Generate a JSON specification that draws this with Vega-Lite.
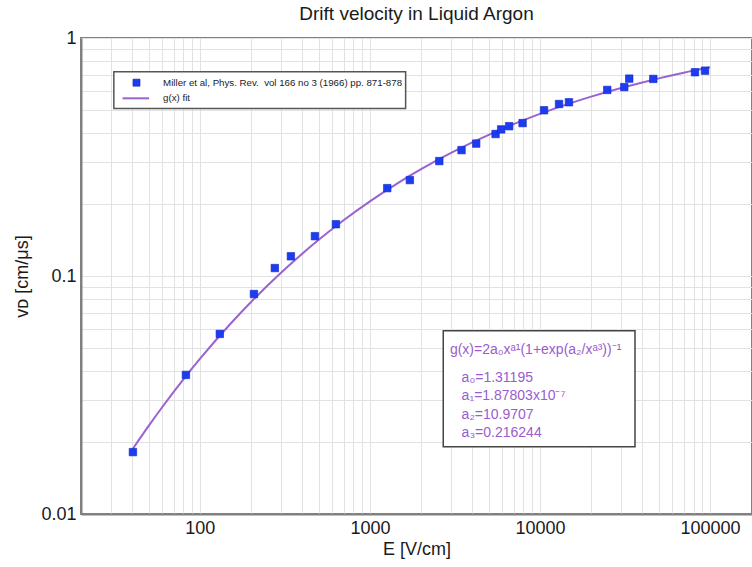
{
  "$schema": "https://vega.github.io/schema/vega-lite/v6.json",
  "autosize": {"type": "none"},
  "padding": {"left": 81, "top": 38, "right": 0, "bottom": 53},
  "width": 671,
  "height": 476,
  "title": {
    "text": "Drift velocity in Liquid Argon",
    "fontSize": 19,
    "fontWeight": "normal",
    "color": "#1a1a1a",
    "anchor": "middle",
    "offset": 5
  },
  "datasets": {
    "measurements": [
      {"E": 40.4, "v": 0.0182},
      {"E": 82.8, "v": 0.0384},
      {"E": 131, "v": 0.0571},
      {"E": 208, "v": 0.084},
      {"E": 276, "v": 0.108},
      {"E": 343, "v": 0.121},
      {"E": 475, "v": 0.147},
      {"E": 631, "v": 0.165},
      {"E": 1265, "v": 0.234},
      {"E": 1718, "v": 0.253},
      {"E": 2559, "v": 0.304},
      {"E": 3458, "v": 0.338},
      {"E": 4218, "v": 0.36},
      {"E": 5483, "v": 0.395},
      {"E": 5915, "v": 0.413},
      {"E": 6591, "v": 0.426},
      {"E": 7906, "v": 0.439},
      {"E": 10570, "v": 0.497},
      {"E": 12950, "v": 0.528},
      {"E": 14810, "v": 0.537},
      {"E": 24880, "v": 0.605},
      {"E": 31320, "v": 0.622},
      {"E": 33500, "v": 0.675},
      {"E": 46400, "v": 0.673},
      {"E": 81600, "v": 0.718},
      {"E": 93500, "v": 0.729}
    ],
    "fit": [
      {"E": 40, "v": 0.018622},
      {"E": 50, "v": 0.023457},
      {"E": 60, "v": 0.028095},
      {"E": 80, "v": 0.03679},
      {"E": 100, "v": 0.044812},
      {"E": 150, "v": 0.062539},
      {"E": 200, "v": 0.07777},
      {"E": 300, "v": 0.10319},
      {"E": 400, "v": 0.12408},
      {"E": 500, "v": 0.14193},
      {"E": 700, "v": 0.17142},
      {"E": 1000, "v": 0.20592},
      {"E": 1500, "v": 0.24873},
      {"E": 2000, "v": 0.28111},
      {"E": 3000, "v": 0.32901},
      {"E": 4000, "v": 0.36422},
      {"E": 5000, "v": 0.39203},
      {"E": 7000, "v": 0.4345},
      {"E": 10000, "v": 0.47979},
      {"E": 15000, "v": 0.53103},
      {"E": 20000, "v": 0.56693},
      {"E": 30000, "v": 0.61649},
      {"E": 40000, "v": 0.65071},
      {"E": 50000, "v": 0.67661},
      {"E": 70000, "v": 0.71453},
      {"E": 100000, "v": 0.7531}
    ],
    "legendEntries": [
      {"label": "Miller et al, Phys. Rev. \u00a0vol 166 no 3 (1966) pp. 871-878"},
      {"label": "g(x) fit"}
    ],
    "fitFormula": [
      {"formula": "g(x)=2a₀xᵃ¹(1+exp(a₂/xᵃ³))⁻¹"}
    ],
    "fitParameters": [
      {"a0": "a₀=1.31195", "a1": "a₁=1.87803x10⁻⁷", "a2": "a₂=10.9707", "a3": "a₃=0.216244"}
    ]
  },
  "layer": [
    {
      "data": {"name": "fit"},
      "mark": {"type": "line", "color": "#9a62d3", "strokeWidth": 2, "interpolate": "monotone"},
      "encoding": {
        "x": {
          "field": "E",
          "type": "quantitative",
          "scale": {"type": "log", "domain": [20, 176600], "nice": false},
          "axis": {
            "title": "E [V/cm]",
            "values": [20, 30, 40, 50, 60, 70, 80, 90, 100, 200, 300, 400, 500, 600, 700, 800, 900, 1000, 2000, 3000, 4000, 5000, 6000, 7000, 8000, 9000, 10000, 20000, 30000, 40000, 50000, 60000, 70000, 80000, 90000, 100000],
            "labelExpr": "indexof([100, 1000, 10000, 100000], datum.value) >= 0 ? format(datum.value, 'd') : ''",
            "labelPadding": 5,
            "titlePadding": 3
          }
        },
        "y": {
          "field": "v",
          "type": "quantitative",
          "scale": {"type": "log", "domain": [0.01, 1], "nice": false},
          "axis": {
            "title": "vᴅ [cm/μs]",
            "values": [0.01, 0.02, 0.03, 0.04, 0.05, 0.06, 0.07, 0.08, 0.09, 0.1, 0.2, 0.3, 0.4, 0.5, 0.6, 0.7, 0.8, 0.9, 1],
            "labelExpr": "datum.value == 0.01 ? '0.01' : datum.value == 0.1 ? '0.1' : datum.value == 1 ? '1' : ''",
            "labelPadding": 5,
            "titlePadding": 9
          }
        }
      }
    },
    {
      "data": {"name": "measurements"},
      "mark": {"type": "point", "shape": "square", "filled": true, "size": 56, "color": "#1c3cf2", "stroke": "#1028c0", "strokeWidth": 0.6, "opacity": 1},
      "encoding": {
        "x": {"field": "E", "type": "quantitative"},
        "y": {"field": "v", "type": "quantitative"}
      }
    },
    {
      "data": {"name": "legendEntries"},
      "transform": [{"filter": "datum.label == 'g(x) fit'"}],
      "mark": {"type": "rect", "fill": "white", "stroke": "#555555", "strokeWidth": 1.5},
      "encoding": {
        "x": {"datum": 31.2, "type": "quantitative"},
        "x2": {"datum": 1622},
        "y": {"datum": 0.7217, "type": "quantitative"},
        "y2": {"datum": 0.5055}
      }
    },
    {
      "data": {"name": "legendEntries"},
      "transform": [{"filter": "datum.label != 'g(x) fit'"}],
      "mark": {"type": "point", "shape": "square", "filled": true, "size": 50, "color": "#1c3cf2", "stroke": "#1028c0", "strokeWidth": 0.6, "opacity": 1},
      "encoding": {
        "x": {"datum": 42.4, "type": "quantitative"},
        "y": {"datum": 0.6491, "type": "quantitative"}
      }
    },
    {
      "data": {"name": "legendEntries"},
      "transform": [{"filter": "datum.label != 'g(x) fit'"}],
      "mark": {"type": "text", "align": "left", "baseline": "middle", "fontSize": 9.7, "color": "#222222"},
      "encoding": {
        "x": {"datum": 60.8, "type": "quantitative"},
        "y": {"datum": 0.6491, "type": "quantitative"},
        "text": {"field": "label"}
      }
    },
    {
      "data": {"name": "legendEntries"},
      "transform": [{"filter": "datum.label == 'g(x) fit'"}],
      "mark": {"type": "rule", "color": "#9a62d3", "strokeWidth": 2},
      "encoding": {
        "x": {"datum": 35.1, "type": "quantitative"},
        "x2": {"datum": 50.3},
        "y": {"datum": 0.5579, "type": "quantitative"}
      }
    },
    {
      "data": {"name": "legendEntries"},
      "transform": [{"filter": "datum.label == 'g(x) fit'"}],
      "mark": {"type": "text", "align": "left", "baseline": "middle", "fontSize": 9.7, "color": "#222222"},
      "encoding": {
        "x": {"datum": 60.8, "type": "quantitative"},
        "y": {"datum": 0.5579, "type": "quantitative"},
        "text": {"field": "label"}
      }
    },
    {
      "data": {"name": "fitFormula"},
      "mark": {"type": "rect", "fill": "white", "stroke": "#444444", "strokeWidth": 1.5},
      "encoding": {
        "x": {"datum": 2700, "type": "quantitative"},
        "x2": {"datum": 36220},
        "y": {"datum": 0.05891, "type": "quantitative"},
        "y2": {"datum": 0.01918}
      }
    },
    {
      "data": {"name": "fitFormula"},
      "mark": {"type": "text", "align": "left", "baseline": "alphabetic", "fontSize": 14, "color": "#9a5ccf"},
      "encoding": {
        "x": {"datum": 2955, "type": "quantitative"},
        "y": {"datum": 0.04688, "type": "quantitative"},
        "text": {"field": "formula"}
      }
    },
    {
      "data": {"name": "fitParameters"},
      "transform": [{"calculate": "[datum.a0, datum.a1, datum.a2, datum.a3]", "as": "lines"}],
      "mark": {"type": "text", "align": "left", "baseline": "alphabetic", "fontSize": 14, "lineHeight": 18.5, "color": "#9a5ccf"},
      "encoding": {
        "x": {"datum": 3462, "type": "quantitative"},
        "y": {"datum": 0.03596, "type": "quantitative"},
        "text": {"field": "lines"}
      }
    }
  ],
  "config": {
    "font": "Liberation Sans",
    "view": {"stroke": "#808080", "strokeWidth": 2},
    "axis": {
      "grid": true,
      "gridColor": "#e2e2e2",
      "gridWidth": 1,
      "ticks": false,
      "domainColor": "#808080",
      "domainWidth": 2,
      "labelFont": "Liberation Sans",
      "labelFontSize": 18,
      "labelColor": "#1a1a1a",
      "labelOverlap": false,
      "labelFlush": false,
      "titleFont": "Liberation Sans",
      "titleFontSize": 18,
      "titleFontWeight": "normal",
      "titleColor": "#1a1a1a"
    }
  }
}
